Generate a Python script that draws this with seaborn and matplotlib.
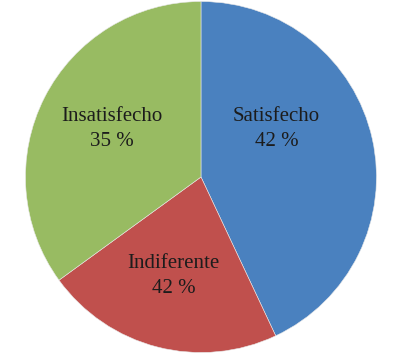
import seaborn as sns
import matplotlib.pyplot as plt

# slice data (clockwise from 12 o'clock)
categories = ['Satisfecho', 'Indiferente', 'Insatisfecho']
shares = [43, 22, 35]
pct_labels = ['42 %', '42 %', '35 %']

sns.set_theme(style='white')
plt.rcParams['font.family'] = ['Liberation Serif', 'DejaVu Serif']

colors = sns.color_palette(['#4A81BF', '#C0504D', '#98BB62'])

fig = plt.figure(figsize=(4.15, 3.57), dpi=100)
ax = fig.add_axes([0.0614, 0.0126, 0.8458, 0.9832])
ax.pie(shares, colors=colors, startangle=90, counterclock=False,
       wedgeprops={'linewidth': 0.4, 'edgecolor': '#e8e8e8'})
ax.set_xlim(-1, 1)
ax.set_ylim(-1, 1)
ax.set_aspect('equal')
ax.axis('off')

# label positions as Excel placed them (axes data coords)
label_pos = [(0.43, 0.275), (-0.155, -0.565), (-0.51, 0.275)]
for name, pct, (x, y) in zip(categories, pct_labels, label_pos):
    ax.text(x, y, f'{name}\n{pct}', ha='center', va='center',
            fontsize=15, color='#1c1c1c', linespacing=1.4)

fig.savefig('out.png', dpi=100, facecolor='white')
